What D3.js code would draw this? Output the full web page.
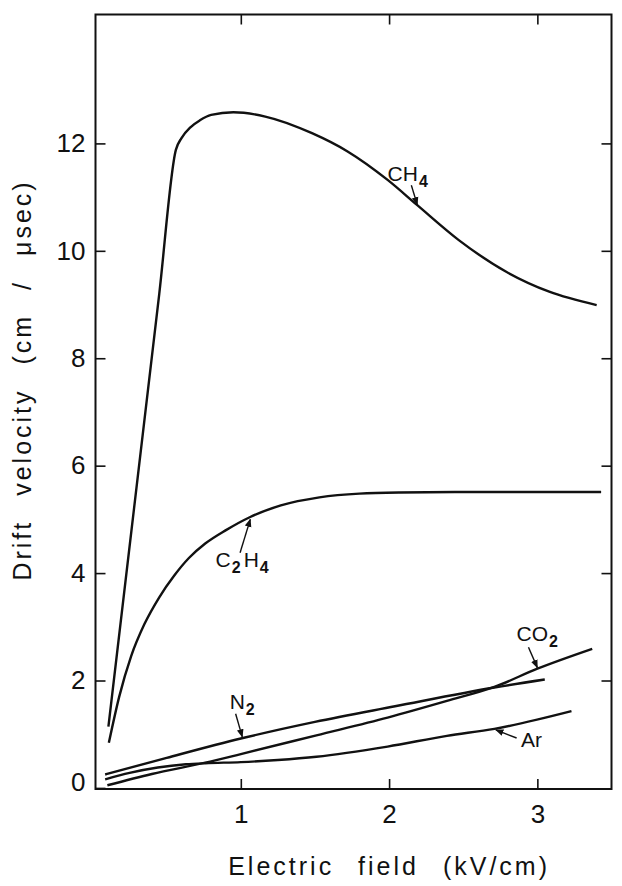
<!DOCTYPE html>
<html lang="en">
<head>
    <meta charset="UTF-8">
    <title>Drift velocity</title>
    <script src="https://d3js.org/d3.v7.min.js"></script>
    <style>
        body { margin: 0; background: #fff; }
        text { font-family: "Liberation Sans", Arial, sans-serif; fill: #111; }
    </style>
</head>
<body>
    <div id="chart"></div>

    <script>
        // data: [electric field kV/cm, drift velocity cm/us]
        const ch4 = [[0.107, 1.14], [0.45, 9.2], [0.562, 11.88], [0.6, 12.1], [0.66, 12.3], [0.724, 12.43],
                     [0.8, 12.53], [0.95, 12.58], [1.165, 12.5], [1.48, 12.19], [1.72, 11.85], [1.99, 11.32],
                     [2.19, 10.85], [2.47, 10.2], [2.79, 9.61], [3.08, 9.24], [3.4, 8.99]];
        const c2h4 = [[0.11, 0.84], [0.18, 1.7], [0.26, 2.45], [0.35, 3.05], [0.45, 3.55], [0.55, 3.95],
                      [0.65, 4.28], [0.76, 4.55], [0.9, 4.8], [1.06, 5.04], [1.27, 5.26], [1.53, 5.41],
                      [1.8, 5.48], [2.07, 5.5], [2.6, 5.51], [3.43, 5.51]];
        const n2 = [[0.085, 0.25], [0.5, 0.56], [1.0, 0.92], [1.5, 1.23], [2.04, 1.52], [2.71, 1.87], [3.05, 2.02]];
        const ar = [[0.085, 0.16], [0.25, 0.28], [0.44, 0.38], [0.63, 0.44], [0.76, 0.46], [1.0, 0.48],
                    [1.25, 0.52], [1.51, 0.58], [1.99, 0.77], [2.39, 0.97], [2.71, 1.1], [3.23, 1.43]];
        const co2 = [[0.1, 0.05], [0.4, 0.26], [0.76, 0.47], [1.0, 0.63], [1.51, 0.98], [1.99, 1.31],
                     [2.39, 1.62], [2.71, 1.88], [3.0, 2.22], [3.37, 2.59]];

        const xTicks = [1, 2, 3];
        const yTicks = [0, 2, 4, 6, 8, 10, 12];

        // gas labels: text anchor and arrow (from -> to), in data units
        const labels = [
            { main: ["CH", "4"], at: [1.99, 11.3], from: [2.15, 11.22], to: [2.19, 10.86] },
            { main: ["C", "2", "H", "4"], at: [0.83, 4.11], from: [0.995, 4.38], to: [1.064, 5.0] },
            { main: ["N", "2"], at: [0.925, 1.47], from: [0.965, 1.38], to: [1.01, 0.95] },
            { main: ["CO", "2"], at: [2.86, 2.74], from: [2.94, 2.62], to: [3.0, 2.24] },
            { main: ["Ar"], at: [2.89, 0.76], from: [2.86, 0.93], to: [2.72, 1.08] }
        ];

        const W = 622, H = 886;
        const svg = d3.select("#chart").append("svg")
            .attr("width", W).attr("height", H);

        svg.append("defs").append("marker")
            .attr("id", "head")
            .attr("viewBox", "0 0 10 10")
            .attr("refX", 9).attr("refY", 5)
            .attr("markerWidth", 6).attr("markerHeight", 6)
            .attr("orient", "auto")
            .append("path")
            .attr("d", "M0,1 L10,5 L0,9 Z")
            .attr("fill", "#111");

        const x = d3.scaleLinear().domain([0.02, 3.5]).range([95.5, 611.5]);
        const y = d3.scaleLinear().domain([-0.02, 14.4]).range([789, 14.5]);

        // frame
        svg.append("rect")
            .attr("x", x(0.02)).attr("y", y(14.4))
            .attr("width", x(3.5) - x(0.02)).attr("height", y(-0.02) - y(14.4))
            .attr("fill", "none").attr("stroke", "#111").attr("stroke-width", 2);

        function styleAxis(g) {
            g.select(".domain").remove();
            g.selectAll(".tick line").attr("stroke", "#111").attr("stroke-width", 1.6);
            g.selectAll(".tick text").style("font-size", "26px").attr("fill", "#111");
        }

        svg.append("g")
            .attr("transform", "translate(0," + y(-0.02) + ")")
            .call(d3.axisBottom(x).tickValues(xTicks).tickSize(-10).tickPadding(16).tickFormat(d3.format("d")))
            .call(styleAxis);

        svg.append("g")
            .attr("transform", "translate(0," + y(14.4) + ")")
            .call(d3.axisTop(x).tickValues(xTicks).tickSize(-10).tickFormat(""))
            .call(styleAxis);

        svg.append("g")
            .attr("transform", "translate(" + x(0.02) + ",0)")
            .call(d3.axisLeft(y).tickValues(yTicks).tickSize(-10).tickPadding(10).tickFormat(d3.format("d")))
            .call(styleAxis)
            .selectAll(".tick text")
            .attr("dy", function(d) { return d === 0 ? "0.1em" : "0.32em"; });

        svg.append("g")
            .attr("transform", "translate(" + x(3.5) + ",0)")
            .call(d3.axisRight(y).tickValues(yTicks.slice(1)).tickSize(-10).tickFormat(""))
            .call(styleAxis);

        // curves
        const line = d3.line()
            .x(function(d) { return x(d[0]); })
            .y(function(d) { return y(d[1]); })
            .curve(d3.curveMonotoneX);

        [ch4, c2h4, n2, ar, co2].forEach(function(s) {
            svg.append("path")
                .datum(s)
                .attr("d", line)
                .attr("fill", "none")
                .attr("stroke", "#111")
                .attr("stroke-width", 2.4);
        });

        // gas labels with arrows
        labels.forEach(function(l) {
            const t = svg.append("text")
                .attr("x", x(l.at[0])).attr("y", y(l.at[1]))
                .style("font-size", "21px");
            l.main.forEach(function(part, i) {
                const sub = i % 2 === 1;
                t.append("tspan")
                    .attr("dy", sub ? 6 : (i > 0 ? -6 : 0))
                    .attr("dx", sub ? 1 : (i > 0 ? 3 : 0))
                    .style("font-size", sub ? "16px" : "21px")
                    .style("font-weight", sub ? "bold" : "normal")
                    .text(part);
            });
            svg.append("line")
                .attr("x1", x(l.from[0])).attr("y1", y(l.from[1]))
                .attr("x2", x(l.to[0])).attr("y2", y(l.to[1]))
                .attr("stroke", "#111").attr("stroke-width", 1.4)
                .attr("marker-end", "url(#head)");
        });

        // axis titles
        svg.append("text")
            .attr("x", x(2)).attr("y", 875)
            .attr("text-anchor", "middle")
            .style("font-size", "25px")
            .style("letter-spacing", "3px")
            .style("word-spacing", "14px")
            .text("Electric field (kV/cm)");

        svg.append("text")
            .attr("transform", "translate(31,380) rotate(-90)")
            .attr("text-anchor", "middle")
            .style("font-size", "25px")
            .style("letter-spacing", "3px")
            .style("word-spacing", "14px")
            .text("Drift velocity (cm / \u03bcsec)");
    </script>
</body>
</html>
